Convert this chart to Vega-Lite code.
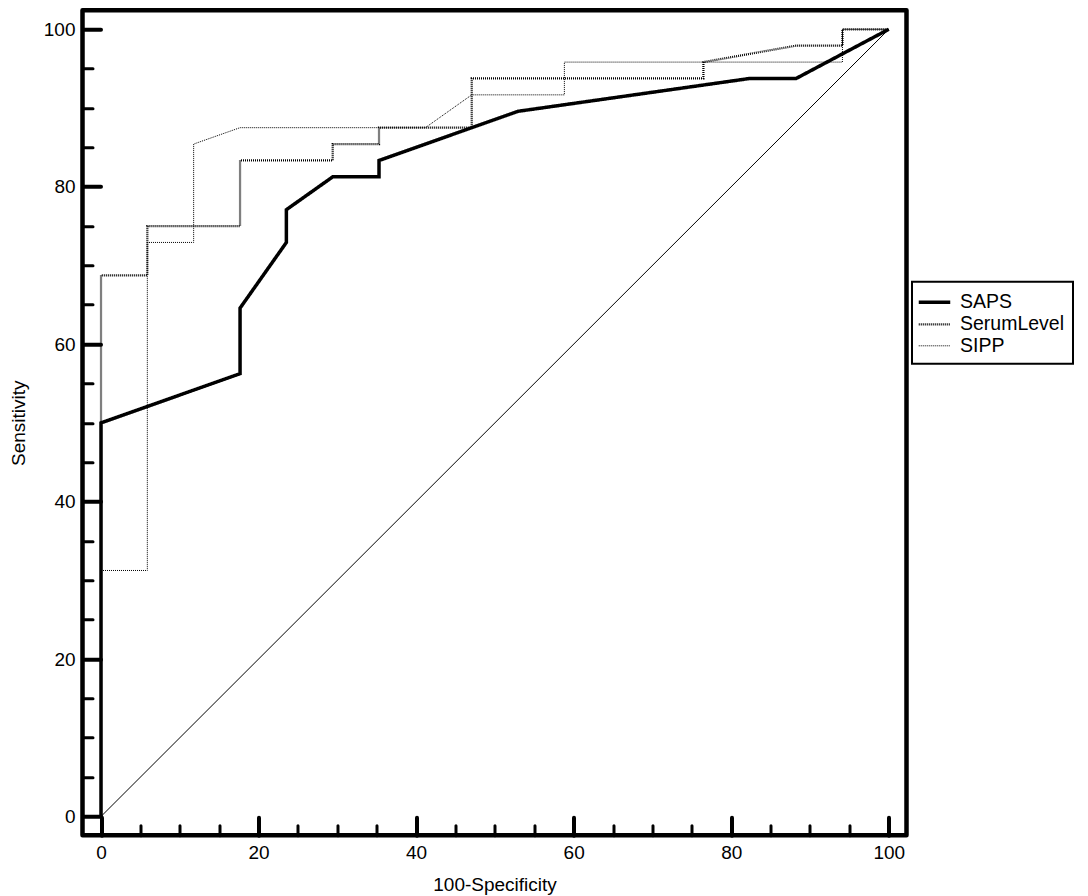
{
  "$schema": "https://vega.github.io/schema/vega-lite/v6.json",
  "width": 824,
  "height": 825,
  "autosize": {"type": "none"},
  "padding": {"left": 82.5, "top": 10.3, "right": 181.3, "bottom": 60.5},
  "background": "white",
  "config": {
    "view": {"stroke": "black", "strokeWidth": 4.5, "strokeJoin": "round"},
    "font": "Liberation Sans",
    "axis": {
      "labelFont": "Liberation Sans",
      "titleFont": "Liberation Sans",
      "labelColor": "black",
      "titleColor": "black",
      "labelFontSize": 19,
      "titleFontSize": 19,
      "titleFontWeight": "normal",
      "grid": false,
      "domain": false
    },
    "legend": {"strokeColor": "black", "strokeWidth": 2}
  },
  "layer": [
    {
      "data": {"values": [{"x": 0, "y": 0}, {"x": 100, "y": 100}]},
      "mark": {"type": "line", "color": "black", "strokeWidth": 1},
      "encoding": {
        "x": {
          "field": "x", "type": "quantitative",
          "scale": {"domain": [-2.35, 102.25], "nice": false, "zero": false},
          "axis": {
            "orient": "bottom",
            "values": [0,5,10,15,20,25,30,35,40,45,50,55,60,65,70,75,80,85,90,95,100],
            "labels": false, "title": null, "ticks": true,
            "tickColor": "black", "tickCap": "round",
            "tickSize": {"condition": {"test": "datum.value % 20 === 0", "value": -18}, "value": -10},
            "tickWidth": {"condition": {"test": "datum.value % 20 === 0", "value": 4}, "value": 3}
          }
        },
        "y": {
          "field": "y", "type": "quantitative",
          "scale": {"domain": [-2.39, 102.41], "nice": false, "zero": false},
          "axis": {
            "orient": "left",
            "values": [0,5,10,15,20,25,30,35,40,45,50,55,60,65,70,75,80,85,90,95,100],
            "labels": false, "title": null, "ticks": true,
            "tickColor": "black", "tickCap": "round",
            "tickSize": {"condition": {"test": "datum.value % 20 === 0", "value": -18}, "value": -10},
            "tickWidth": {"condition": {"test": "datum.value % 20 === 0", "value": 4}, "value": 3}
          }
        }
      }
    },
    {
      "data": {
        "values": [
          {"series": "SerumLevel", "i": 1, "x": 0, "y": 0},
          {"series": "SerumLevel", "i": 2, "x": 0, "y": 68.75},
          {"series": "SerumLevel", "i": 3, "x": 5.88, "y": 68.75},
          {"series": "SerumLevel", "i": 4, "x": 5.88, "y": 75},
          {"series": "SerumLevel", "i": 5, "x": 17.65, "y": 75},
          {"series": "SerumLevel", "i": 6, "x": 17.65, "y": 83.33},
          {"series": "SerumLevel", "i": 7, "x": 29.41, "y": 83.33},
          {"series": "SerumLevel", "i": 8, "x": 29.41, "y": 85.42},
          {"series": "SerumLevel", "i": 9, "x": 35.29, "y": 85.42},
          {"series": "SerumLevel", "i": 10, "x": 35.29, "y": 87.5},
          {"series": "SerumLevel", "i": 11, "x": 47.06, "y": 87.5},
          {"series": "SerumLevel", "i": 12, "x": 47.06, "y": 93.75},
          {"series": "SerumLevel", "i": 13, "x": 76.47, "y": 93.75},
          {"series": "SerumLevel", "i": 14, "x": 76.47, "y": 95.83},
          {"series": "SerumLevel", "i": 15, "x": 88.24, "y": 97.92},
          {"series": "SerumLevel", "i": 16, "x": 94.12, "y": 97.92},
          {"series": "SerumLevel", "i": 17, "x": 94.12, "y": 100},
          {"series": "SerumLevel", "i": 18, "x": 100, "y": 100},
          {"series": "SIPP", "i": 1, "x": 0, "y": 0},
          {"series": "SIPP", "i": 2, "x": 0, "y": 31.25},
          {"series": "SIPP", "i": 3, "x": 5.88, "y": 31.25},
          {"series": "SIPP", "i": 4, "x": 5.88, "y": 72.92},
          {"series": "SIPP", "i": 5, "x": 11.76, "y": 72.92},
          {"series": "SIPP", "i": 6, "x": 11.76, "y": 85.42},
          {"series": "SIPP", "i": 7, "x": 17.65, "y": 87.5},
          {"series": "SIPP", "i": 8, "x": 41.18, "y": 87.5},
          {"series": "SIPP", "i": 9, "x": 47.06, "y": 91.67},
          {"series": "SIPP", "i": 10, "x": 58.82, "y": 91.67},
          {"series": "SIPP", "i": 11, "x": 58.82, "y": 95.83},
          {"series": "SIPP", "i": 12, "x": 94.12, "y": 95.83},
          {"series": "SIPP", "i": 13, "x": 94.12, "y": 100},
          {"series": "SIPP", "i": 14, "x": 100, "y": 100},
          {"series": "SAPS", "i": 1, "x": 0, "y": 0},
          {"series": "SAPS", "i": 2, "x": 0, "y": 50},
          {"series": "SAPS", "i": 3, "x": 17.65, "y": 56.25},
          {"series": "SAPS", "i": 4, "x": 17.65, "y": 64.58},
          {"series": "SAPS", "i": 5, "x": 23.53, "y": 72.92},
          {"series": "SAPS", "i": 6, "x": 23.53, "y": 77.08},
          {"series": "SAPS", "i": 7, "x": 29.41, "y": 81.25},
          {"series": "SAPS", "i": 8, "x": 35.29, "y": 81.25},
          {"series": "SAPS", "i": 9, "x": 35.29, "y": 83.33},
          {"series": "SAPS", "i": 10, "x": 52.94, "y": 89.58},
          {"series": "SAPS", "i": 11, "x": 82.35, "y": 93.75},
          {"series": "SAPS", "i": 12, "x": 88.24, "y": 93.75},
          {"series": "SAPS", "i": 13, "x": 100, "y": 100}
        ]
      },
      "mark": {"type": "line", "strokeCap": "butt", "strokeJoin": "miter"},
      "encoding": {
        "x": {
          "field": "x", "type": "quantitative",
          "scale": {"domain": [-2.35, 102.25], "nice": false, "zero": false},
          "axis": {
            "orient": "bottom",
            "values": [0, 20, 40, 60, 80, 100],
            "ticks": false, "labelPadding": 8,
            "title": "100-Specificity", "titleY": 40, "titleBaseline": "top"
          }
        },
        "y": {
          "field": "y", "type": "quantitative",
          "scale": {"domain": [-2.39, 102.41], "nice": false, "zero": false},
          "axis": {
            "orient": "left",
            "values": [0, 20, 40, 60, 80, 100],
            "ticks": false, "labelPadding": 7.5,
            "title": "Sensitivity", "titleX": -58, "titleBaseline": "alphabetic", "titleAngle": -90
          }
        },
        "color": {
          "field": "series", "type": "nominal",
          "scale": {"domain": ["SAPS", "SerumLevel", "SIPP"], "range": ["black", "black", "black"]},
          "legend": {
            "title": null, "orient": "none", "legendX": 829.5, "legendY": 271.5,
            "padding": 8, "rowPadding": 0.5, "labelOffset": 13, "symbolOffset": 2,
            "labelFont": "Liberation Sans", "labelFontSize": 19.5, "labelColor": "black",
            "symbolType": "M-1.5,0H1.5", "symbolSize": 441, "strokeColor": "black"
          }
        },
        "strokeWidth": {
          "field": "series", "type": "nominal",
          "scale": {"domain": ["SAPS", "SerumLevel", "SIPP"], "range": [3.5, 1, 1]}
        },
        "strokeDash": {
          "field": "series", "type": "nominal",
          "scale": {"domain": ["SAPS", "SerumLevel", "SIPP"], "range": [[1, 0], [1, 1], [1, 1]]}
        },
        "order": {"field": "i", "type": "quantitative"}
      }
    }
  ],
  "resolve": {"axis": {"x": "independent", "y": "independent"}}
}
